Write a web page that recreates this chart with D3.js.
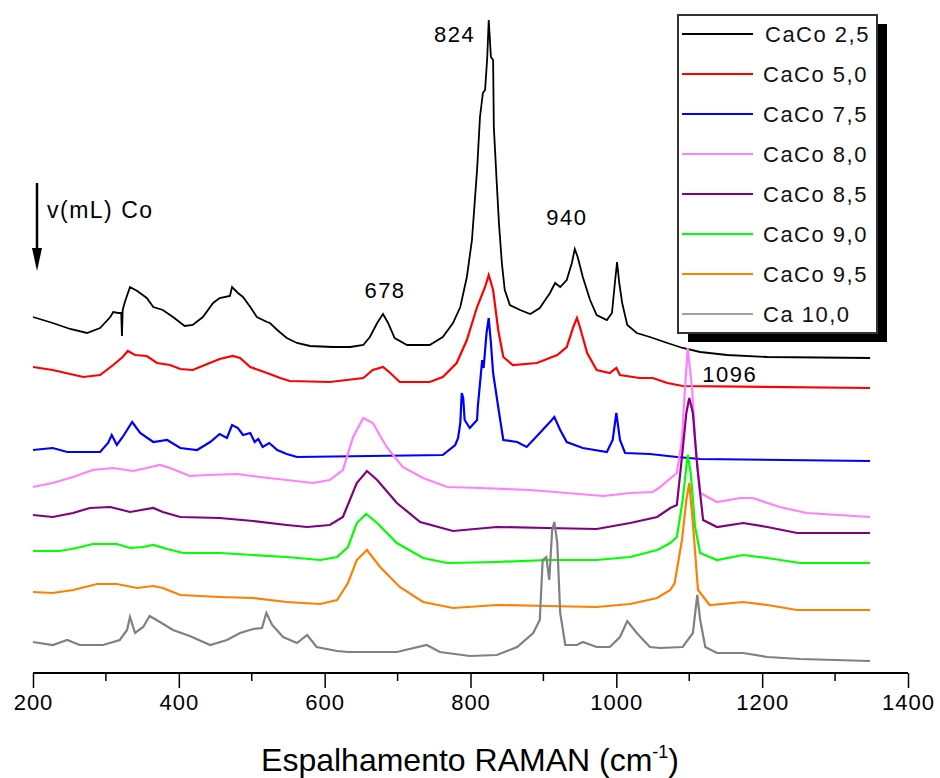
<!DOCTYPE html>
<html><head><meta charset="utf-8">
<script src="https://cdn.jsdelivr.net/npm/d3@7/dist/d3.min.js"></script>
<style>
html,body{margin:0;padding:0;background:#fff;}
svg{display:block;font-family:"Liberation Sans",Arial,sans-serif;}
</style></head>
<body>
<svg id="chart" width="940" height="778"></svg>
<script>
// ---------- data (wavenumber cm-1, offset intensity a.u.) ----------
const seriesNames = ["CaCo 2,5","CaCo 5,0","CaCo 7,5","CaCo 8,0","CaCo 8,5","CaCo 9,0","CaCo 9,5","Ca 10,0"];
const seriesColors = ["#000000","#ff0000","#0000ff","#ff80ff","#800080","#00ff00","#ff8000","#808080"];

const caco25 = [[200,356],[227,350],[251,344],[274,340],[292,345],[306,356],[310,361],[317,360],[321,360],[322,337],[323,363],[326,371],[333,386],[343,382],[356,375],[365,366],[378,363],[392,356],[408,347],[419,348],[433,356],[447,370],[456,375],[470,377],[473,386],[481,380],[488,376],[498,366],[507,356],[521,351],[525,350],[535,343],[548,335],[562,330],[580,327],[611,326],[635,326],[653,328],[662,336],[672,350],[680,359],[687,350],[696,335],[713,328],[744,328],[762,336],[776,350],[786,366],[795,396],[802,433],[809,503],[813,556],[817,580],[820,583],[823,616],[825,653],[828,616],[831,613],[832,546],[836,490],[839,450],[843,410],[847,383],[854,368],[868,363],[882,359],[895,365],[909,380],[916,390],[923,386],[932,393],[939,410],[943,424],[947,416],[954,396],[964,373],[973,358],[987,353],[994,360],[998,390],[1001,411],[1004,390],[1008,370],[1015,348],[1028,340],[1046,336],[1070,330],[1091,325],[1115,321],[1152,318],[1207,316],[1348,315]];
const caco50 = [[200,306],[227,303],[251,299],[269,296],[292,298],[310,308],[323,316],[330,322],[340,318],[356,317],[370,310],[388,308],[402,304],[419,303],[439,309],[456,314],[474,317],[484,315],[498,306],[521,300],[539,295],[552,292],[607,291],[653,295],[666,303],[680,306],[690,300],[703,291],[744,291],[762,296],[781,310],[795,333],[809,366],[820,386],[825,398],[831,383],[838,343],[845,316],[858,308],[891,310],[919,318],[932,326],[941,346],[946,355],[950,346],[960,320],[973,303],[991,300],[1000,305],[1005,298],[1032,295],[1050,295],[1070,290],[1091,287],[1348,285]];
const caco75 = [[200,223],[227,225],[247,221],[292,221],[303,230],[308,238],[315,228],[323,236],[336,251],[347,240],[365,231],[384,233],[402,225],[425,223],[443,231],[456,239],[466,235],[473,248],[481,245],[488,238],[498,240],[504,231],[509,234],[515,226],[524,230],[535,223],[548,219],[562,216],[762,218],[779,228],[783,235],[786,250],[788,280],[790,275],[792,253],[799,245],[809,253],[810,266],[816,313],[818,305],[822,340],[825,355],[828,330],[831,300],[838,266],[845,233],[864,231],[877,226],[895,240],[909,251],[915,256],[923,243],[932,231],[954,225],[987,221],[995,233],[1000,260],[1005,233],[1012,220],[1046,219],[1083,216],[1115,214],[1348,212]];
const caco80 = [[200,186],[227,190],[255,196],[282,203],[310,205],[337,202],[356,205],[374,208],[388,205],[415,197],[439,198],[480,199],[511,196],[548,193],[584,190],[607,193],[625,203],[639,236],[653,255],[666,250],[685,226],[707,206],[735,195],[768,186],[813,185],[882,183],[932,180],[982,177],[1019,180],[1050,181],[1060,186],[1083,200],[1090,233],[1094,283],[1098,325],[1104,283],[1108,233],[1115,180],[1138,171],[1170,175],[1187,175],[1224,166],[1261,160],[1348,156]];
const caco85 = [[200,158],[227,156],[255,160],[278,165],[306,166],[333,161],[365,165],[378,161],[402,156],[456,155],[502,152],[548,148],[576,146],[607,148],[625,156],[644,190],[658,202],[672,193],[699,170],[731,151],[776,142],[836,146],[905,145],[973,144],[1019,150],[1056,156],[1074,165],[1083,168],[1090,216],[1096,260],[1100,275],[1105,260],[1111,206],[1119,153],[1138,146],[1174,150],[1207,146],[1248,140],[1348,140]];
const caco90 = [[200,122],[237,122],[260,125],[282,129],[315,129],[333,125],[351,126],[365,128],[384,124],[406,120],[456,120],[502,118],[548,116],[594,113],[617,116],[632,126],[644,150],[657,159],[672,150],[699,130],[735,115],[768,110],[836,111],[905,113],[973,113],[1019,116],[1056,123],[1074,130],[1083,136],[1091,173],[1096,206],[1098,218],[1102,200],[1108,146],[1115,120],[1138,113],[1174,118],[1207,115],[1252,110],[1348,110]];
const caco95 = [[200,81],[227,80],[255,83],[288,89],[315,89],[343,85],[365,87],[378,85],[402,78],[456,76],[502,75],[548,71],[594,69],[617,73],[632,90],[644,113],[658,123],[676,106],[703,86],[735,71],[776,65],[836,68],[905,67],[973,66],[1019,69],[1056,75],[1074,83],[1080,90],[1090,133],[1096,173],[1100,190],[1105,150],[1112,83],[1128,68],[1174,71],[1207,68],[1248,63],[1348,63]];
const ca100 = [[200,31],[227,28],[247,33],[264,28],[296,28],[319,33],[329,43],[333,56],[340,40],[351,46],[360,57],[374,51],[392,43],[415,37],[443,28],[466,33],[484,40],[502,44],[514,45],[520,60],[528,48],[543,36],[562,30],[576,38],[589,26],[617,22],[632,21],[653,21],[699,21],[740,28],[758,21],[799,17],[836,18],[864,26],[886,40],[895,53],[899,113],[904,116],[908,93],[912,143],[915,151],[919,130],[923,60],[930,28],[946,28],[954,31],[973,26],[991,26],[1005,36],[1015,52],[1028,40],[1046,26],[1060,25],[1091,26],[1105,40],[1111,78],[1115,53],[1122,26],[1138,20],[1174,20],[1207,16],[1252,14],[1348,12]];

const seriesData = [caco25, caco50, caco75, caco80, caco85, caco90, caco95, ca100];

const xTicks = [200,400,600,800,1000,1200,1400];
const xMinorTicks = [300,500,700,900,1100,1300];
const peakLabels = [{text:"824", x:825, y:653}, {text:"940", x:943, y:424}, {text:"678", x:680, y:359}, {text:"1096", x:1098, y:325}];

// ---------- drawing ----------
const svg = d3.select("#chart");
const x = d3.scaleLinear().domain([200,1400]).range([33,908]);
const y = d3.scaleLinear().domain([0,650]).range([673,23]);

const lineGen = d3.line().x(d=>x(d[0])).y(d=>y(d[1]));

const gLines = svg.append("g");
seriesData.forEach((s,i)=>{
  gLines.append("path").attr("d", lineGen(s))
    .attr("fill","none").attr("stroke",seriesColors[i])
    .attr("stroke-width", i===0?1.8:2.2).attr("stroke-linejoin","miter");
});

// x axis
const axisG = svg.append("g").attr("transform",`translate(0,${y(0)})`);
axisG.call(d3.axisBottom(x).tickValues(xTicks).tickSize(15).tickPadding(6).tickFormat(d3.format("d")));
axisG.selectAll(".tick text").attr("font-size",22).attr("font-family","Liberation Sans, Arial, sans-serif").attr("letter-spacing","1px").attr("fill","#000");
axisG.select(".domain").attr("stroke-width",2).attr("d",`M${x(200)},0H${x(1400)}`);
axisG.selectAll(".tick line").attr("stroke-width",1.5);
axisG.selectAll(".minor").data(xMinorTicks).enter().append("line")
  .attr("x1",d=>x(d)).attr("x2",d=>x(d)).attr("y1",0).attr("y2",8)
  .attr("stroke","#000").attr("stroke-width",1.5);

// axis title
const title = svg.append("text").attr("x",470).attr("y",771).attr("text-anchor","middle")
  .attr("font-size",32).attr("fill","#000");
title.append("tspan").text("Espalhamento RAMAN (cm");
title.append("tspan").attr("font-size",18).attr("dy",-13).text("-1");
title.append("tspan").attr("dy",13).text(")");

// peak labels
const labelOffsets = {"824":[-34,22],"940":[-8,-24],"678":[2,-16],"1096":[42,34]};
peakLabels.forEach(p=>{
  const o = labelOffsets[p.text];
  svg.append("text").attr("x",x(p.x)+o[0]).attr("y",y(p.y)+o[1]).attr("text-anchor","middle")
    .attr("font-size",22).attr("letter-spacing","1.5px").attr("fill","#000").text(p.text);
});

// arrow and label
svg.append("line").attr("x1",37).attr("x2",37).attr("y1",183).attr("y2",252).attr("stroke","#000").attr("stroke-width",2.5);
svg.append("path").attr("d","M32,248 L42,248 L37,271 Z").attr("fill","#000");
svg.append("text").attr("x",47).attr("y",218).attr("font-size",23).attr("letter-spacing","1.5px").attr("fill","#000").text("v(mL) Co");

// legend
const lg = svg.append("g");
lg.append("rect").attr("x",688).attr("y",24).attr("width",199).attr("height",318).attr("fill","#000");
lg.append("rect").attr("x",678).attr("y",15).attr("width",199).attr("height",318).attr("fill","#fff").attr("stroke","#333").attr("stroke-width",2);
seriesNames.forEach((n,i)=>{
  const yy = 34 + i*40;
  lg.append("line").attr("x1",682).attr("x2",753).attr("y1",yy).attr("y2",yy)
    .attr("stroke",seriesColors[i]).attr("stroke-width", i===7?1.5:2);
  lg.append("text").attr("x",i===0?765:763).attr("y",yy+8).attr("font-size",22).attr("letter-spacing","1.5px")
    .attr("fill","#111").text(n);
});
</script>
</body></html>
